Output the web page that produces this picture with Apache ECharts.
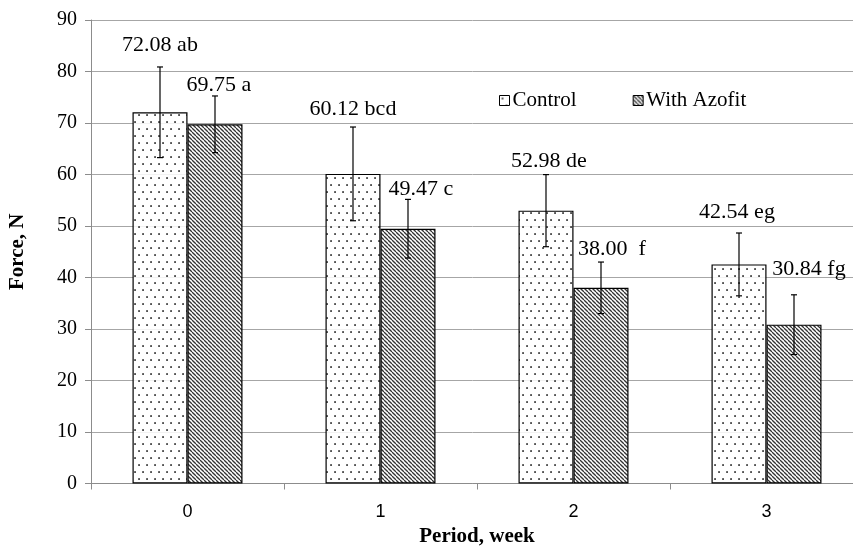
<!DOCTYPE html>
<html lang="en">
<head>
    <meta charset="utf-8">
    <style>
        html, body, #container {
          width: 853px;
          height: 547px;
          margin: 0;
          padding: 0;
          background: #fff;
        }
    </style>
</head>
<body>
<div id="container"></div>
<script type="text/javascript" src="https://fastly.jsdelivr.net/npm/echarts@6.0.0/dist/echarts.min.js"></script>
<script type="text/javascript">
  // data
  var weeks = ['0', '1', '2', '3'];
  var controlMean = [72.08, 60.12, 52.98, 42.54];
  var controlErr = [8.8, 9.1, 7.0, 6.1];
  var controlLetters = ['ab', 'bcd', 'de', 'eg'];
  var azofitMean = [69.75, 49.47, 38.00, 30.84];
  var azofitErr = [5.5, 5.7, 5.0, 5.8];
  var azofitLetters = ['a', 'c', ' f', 'fg'];
  var yTicks = [0, 10, 20, 30, 40, 50, 60, 70, 80, 90];

  // label nudges (px) relative to the error bar top: [dx, dy]
  var controlShift = [[0, -22], [0, -18], [3, -13], [-2, -21]];
  var azofitShift = [[4, -11], [13, -10], [11, -13], [15, -26]];

  var serif = '"Liberation Serif", "Times New Roman", serif';
  var BAR_W = 55;

  function dotPattern() {
    var c = document.createElement('canvas');
    c.width = 16; c.height = 14;
    var ctx = c.getContext('2d');
    ctx.fillStyle = 'rgba(255,255,255,0.85)';
    ctx.fillRect(0, 0, 16, 14);
    ctx.fillStyle = '#111';
    [[3, 3], [11, 3], [7, 10], [15, 10]].forEach(function (p) {
      ctx.fillRect(p[0] - 0.75, p[1] - 0.75, 1.6, 1.6);
    });
    return c;
  }

  function hatchPattern() {
    var s = 4;
    var c = document.createElement('canvas');
    c.width = s; c.height = s;
    var ctx = c.getContext('2d');
    ctx.fillStyle = 'rgba(255,255,255,0.85)';
    ctx.fillRect(0, 0, s, s);
    ctx.strokeStyle = '#333';
    ctx.lineWidth = 1.3;
    [-s, 0, s].forEach(function (x0) {
      ctx.beginPath();
      ctx.moveTo(x0, 0);
      ctx.lineTo(x0 + s, s);
      ctx.stroke();
    });
    return c;
  }

  function errData(mean, err) {
    return mean.map(function (m, i) { return [i, m - err[i], m + err[i], m]; });
  }

  function errorRender(shiftX, letters, nudge) {
    return function (params, api) {
      var i = api.value(0);
      var lo = api.coord([i, api.value(1)]);
      var hi = api.coord([i, api.value(2)]);
      var x = lo[0] + shiftX;
      var cap = 3;
      var txt = api.value(3).toFixed(2) + ' ' + letters[i];
      return {
        type: 'group',
        children: [
          { type: 'line', shape: { x1: x, y1: lo[1], x2: x, y2: hi[1] }, style: { stroke: '#000', lineWidth: 1.2 } },
          { type: 'line', shape: { x1: x - cap, y1: lo[1], x2: x + cap, y2: lo[1] }, style: { stroke: '#000', lineWidth: 1.2 } },
          { type: 'line', shape: { x1: x - cap, y1: hi[1], x2: x + cap, y2: hi[1] }, style: { stroke: '#000', lineWidth: 1.2 } },
          {
            type: 'text',
            x: x + nudge[i][0], y: hi[1] + nudge[i][1],
            style: { text: txt, fill: '#000', font: '22px ' + serif, align: 'center', verticalAlign: 'middle' }
          }
        ]
      };
    };
  }

  var dom = document.getElementById('container');
  var myChart = echarts.init(dom, null, { renderer: 'canvas' });

  var option = {
    animation: false,
    backgroundColor: '#fff',
    grid: { left: 91, top: 20, width: 772, height: 463.5, containLabel: false, outerBoundsMode: 'none' },
    legend: {
      data: ['Control', 'With Azofit'],
      left: 494,
      top: 85,
      itemWidth: 10,
      itemHeight: 10,
      itemGap: 56,
      icon: 'rect',
      itemStyle: { borderColor: '#000', borderWidth: 1 },
      textStyle: { fontFamily: serif, fontSize: 21, color: '#000', padding: [0, 0, 0, -2] }
    },
    xAxis: {
      type: 'category',
      data: weeks,
      name: 'Period, week',
      nameLocation: 'middle',
      nameGap: 43,
      nameTextStyle: { fontFamily: serif, fontSize: 21, fontWeight: 'bold', color: '#000' },
      axisLine: { lineStyle: { color: '#8c8c8c', width: 1 } },
      axisTick: { show: true, length: 6, lineStyle: { color: '#8c8c8c' } },
      axisLabel: { margin: 20, fontFamily: '"Liberation Sans Narrow", "Liberation Sans", sans-serif', fontSize: 18, color: '#000' }
    },
    yAxis: {
      type: 'value',
      min: yTicks[0],
      max: yTicks[yTicks.length - 1],
      interval: 10,
      name: 'Force, N',
      nameLocation: 'middle',
      nameGap: 63,
      nameTextStyle: { fontFamily: serif, fontSize: 21, fontWeight: 'bold', color: '#000' },
      axisLine: { show: true, lineStyle: { color: '#8c8c8c', width: 1 } },
      axisTick: { show: true, length: 6, lineStyle: { color: '#8c8c8c' } },
      axisLabel: { margin: 14, fontFamily: serif, fontSize: 20, color: '#000' },
      splitLine: { show: true, lineStyle: { color: '#a6a6a6', width: 1 } }
    },
    series: [
      {
        name: 'Control',
        type: 'bar',
        data: controlMean,
        barWidth: BAR_W,
        barGap: '0%',
        itemStyle: { color: { image: dotPattern(), repeat: 'repeat' }, borderColor: '#000', borderWidth: 1.2 }
      },
      {
        name: 'With Azofit',
        type: 'bar',
        data: azofitMean,
        barWidth: BAR_W,
        barGap: '0%',
        itemStyle: { color: { image: hatchPattern(), repeat: 'repeat' }, borderColor: '#000', borderWidth: 1.2 }
      },
      {
        type: 'custom',
        data: errData(controlMean, controlErr),
        renderItem: errorRender(-BAR_W / 2, controlLetters, controlShift),
        z: 5
      },
      {
        type: 'custom',
        data: errData(azofitMean, azofitErr),
        renderItem: errorRender(BAR_W / 2, azofitLetters, azofitShift),
        z: 5
      }
    ]
  };

  if (option && typeof option === 'object') {
    myChart.setOption(option);
  }
  window.addEventListener('resize', myChart.resize);
</script>
</body>
</html>
